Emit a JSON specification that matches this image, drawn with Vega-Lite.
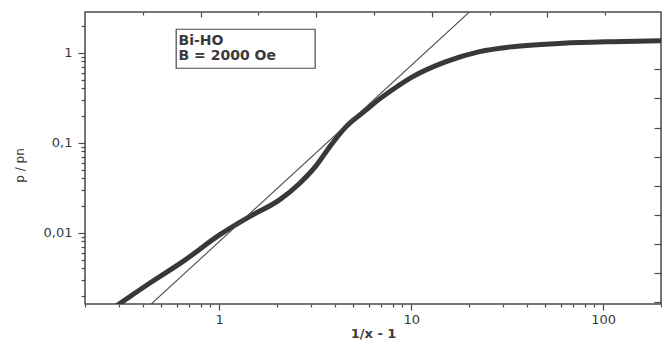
{
  "$schema": "https://vega.github.io/schema/vega-lite/v6.json",
  "width": 576,
  "height": 292,
  "autosize": {"type": "none"},
  "padding": {"left": 85, "top": 12, "right": 1, "bottom": 43},
  "background": "white",
  "config": {
    "view": {"stroke": "#4a4a4a", "strokeWidth": 1.5},
    "axis": {"domain": false, "grid": false, "tickColor": "#4a4a4a", "tickWidth": 1.2, "labelFont": "DejaVu Sans", "labelFontSize": 13, "labelColor": "#3a3a3a", "titleFont": "DejaVu Sans", "titleColor": "#3a3a3a", "labelOverlap": false, "labelFlush": false}
  },
  "datasets": {
    "curve": [
      {"x": 0.28, "y": 0.00144},
      {"x": 0.309, "y": 0.00167},
      {"x": 0.4335, "y": 0.00274},
      {"x": 0.646, "y": 0.00476},
      {"x": 1.004, "y": 0.00943},
      {"x": 1.438, "y": 0.01506},
      {"x": 2.06, "y": 0.0231},
      {"x": 2.62, "y": 0.0352},
      {"x": 3.2, "y": 0.0555},
      {"x": 3.75, "y": 0.089},
      {"x": 4.58, "y": 0.1507},
      {"x": 5.83, "y": 0.231},
      {"x": 6.57, "y": 0.2855},
      {"x": 8.2, "y": 0.402},
      {"x": 10.2, "y": 0.541},
      {"x": 15.2, "y": 0.794},
      {"x": 22.7, "y": 1.026},
      {"x": 33.8, "y": 1.166},
      {"x": 61.6, "y": 1.27},
      {"x": 112, "y": 1.325},
      {"x": 200, "y": 1.36}
    ],
    "fit": [
      {"x": 0.40, "y": 0.00132},
      {"x": 22, "y": 3.38}
    ],
    "note": [{"line1": "Bi-HO", "line2": "B = 2000 Oe"}]
  },
  "resolve": {"axis": {"x": "independent", "y": "independent"}},
  "layer": [
    {
      "data": {"name": "curve"},
      "mark": {"type": "line", "clip": true, "stroke": "#383838", "strokeWidth": 5, "interpolate": "monotone", "strokeCap": "butt"},
      "encoding": {
        "x": {"field": "x", "type": "quantitative",
          "scale": {"type": "log", "domain": [0.2, 200], "nice": false},
          "axis": {"orient": "bottom", "title": "1/x - 1", "titleFont": "DejaVu Sans", "titleFontWeight": "bold", "titleFontSize": 13,
            "titleX": 288, "titleY": 29, "titleBaseline": "middle", "titleAnchor": null,
            "values": [0.2,0.3,0.4,0.5,0.6,0.7,0.8,0.9,1,2,3,4,5,6,7,8,9,10,20,30,40,50,60,70,80,90,100,200],
            "labelExpr": "datum.value==1 ? '1' : datum.value==10 ? '10' : datum.value==100 ? '100' : ''",
            "tickSize": {"condition": {"test": "datum.value==1 || datum.value==10 || datum.value==100", "value": 6}, "value": 3},
            "labelPadding": 3}
        },
        "y": {"field": "y", "type": "quantitative",
          "scale": {"type": "log", "domain": [0.00161, 2.83], "nice": false},
          "axis": {"orient": "left", "title": "p / pn", "titleFontSize": 12, "titleFontWeight": "normal",
            "titleX": -66, "titleY": 153, "titleAngle": -90, "titleBaseline": "middle", "titleAlign": "center",
            "values": [0.002,0.003,0.004,0.005,0.006,0.007,0.008,0.009,0.01,0.02,0.03,0.04,0.05,0.06,0.07,0.08,0.09,0.1,0.2,0.3,0.4,0.5,0.6,0.7,0.8,0.9,1,2],
            "labelExpr": "datum.value==1 ? '1' : datum.value==0.1 ? '0,1' : datum.value==0.01 ? '0,01' : ''",
            "tickSize": {"condition": {"test": "datum.value==1 || datum.value==0.1 || datum.value==0.01", "value": 7}, "value": 4},
            "labelPadding": 6}
        }
      }
    },
    {
      "data": {"name": "fit"},
      "mark": {"type": "line", "clip": true, "stroke": "#4a4a4a", "strokeWidth": 1.1},
      "encoding": {
        "x": {"field": "x", "type": "quantitative",
          "scale": {"type": "log", "domain": [0.2, 200], "nice": false},
          "axis": {"orient": "top", "title": null, "labels": false,
            "values": [0.4,0.8,1.6,3.2,6.4,12.8,25.6,51.2,102.4],
            "tickSize": {"condition": {"test": "datum.value==0.8 || datum.value==3.2 || datum.value==12.8 || datum.value==51.2", "value": -5}, "value": -3}}
        },
        "y": {"field": "y", "type": "quantitative",
          "scale": {"type": "log", "domain": [0.00161, 2.83], "nice": false},
          "axis": {"orient": "right", "title": null, "labels": false,
            "values": [0.0017,0.0036,0.0075,0.0157,0.033,0.070,0.147,0.311,0.654,1.37],
            "tickSize": -7}
        }
      }
    },
    {
      "data": {"name": "note"},
      "mark": {"type": "rect", "fill": null, "fillOpacity": 0, "stroke": "#4a4a4a", "strokeWidth": 1.2},
      "encoding": {
        "x": {"datum": 0.597, "type": "quantitative", "scale": {"type": "log", "domain": [0.2, 200], "nice": false}, "axis": null},
        "x2": {"datum": 3.16},
        "y": {"datum": 1.82, "type": "quantitative", "scale": {"type": "log", "domain": [0.00161, 2.83], "nice": false}, "axis": null},
        "y2": {"datum": 0.671}
      }
    },
    {
      "data": {"name": "note"},
      "mark": {"type": "text", "align": "left", "baseline": "middle", "font": "DejaVu Sans", "fontSize": 14, "fontWeight": "bold", "fill": "#3a3a3a"},
      "encoding": {
        "text": {"field": "line1"},
        "x": {"datum": 0.614, "type": "quantitative", "scale": {"type": "log", "domain": [0.2, 200], "nice": false}, "axis": null},
        "y": {"datum": 1.35, "type": "quantitative", "scale": {"type": "log", "domain": [0.00161, 2.83], "nice": false}, "axis": null}
      }
    },
    {
      "data": {"name": "note"},
      "mark": {"type": "text", "align": "left", "baseline": "middle", "font": "DejaVu Sans", "fontSize": 14, "fontWeight": "bold", "fill": "#3a3a3a"},
      "encoding": {
        "text": {"field": "line2"},
        "x": {"datum": 0.614, "type": "quantitative", "scale": {"type": "log", "domain": [0.2, 200], "nice": false}, "axis": null},
        "y": {"datum": 0.908, "type": "quantitative", "scale": {"type": "log", "domain": [0.00161, 2.83], "nice": false}, "axis": null}
      }
    }
  ]
}
